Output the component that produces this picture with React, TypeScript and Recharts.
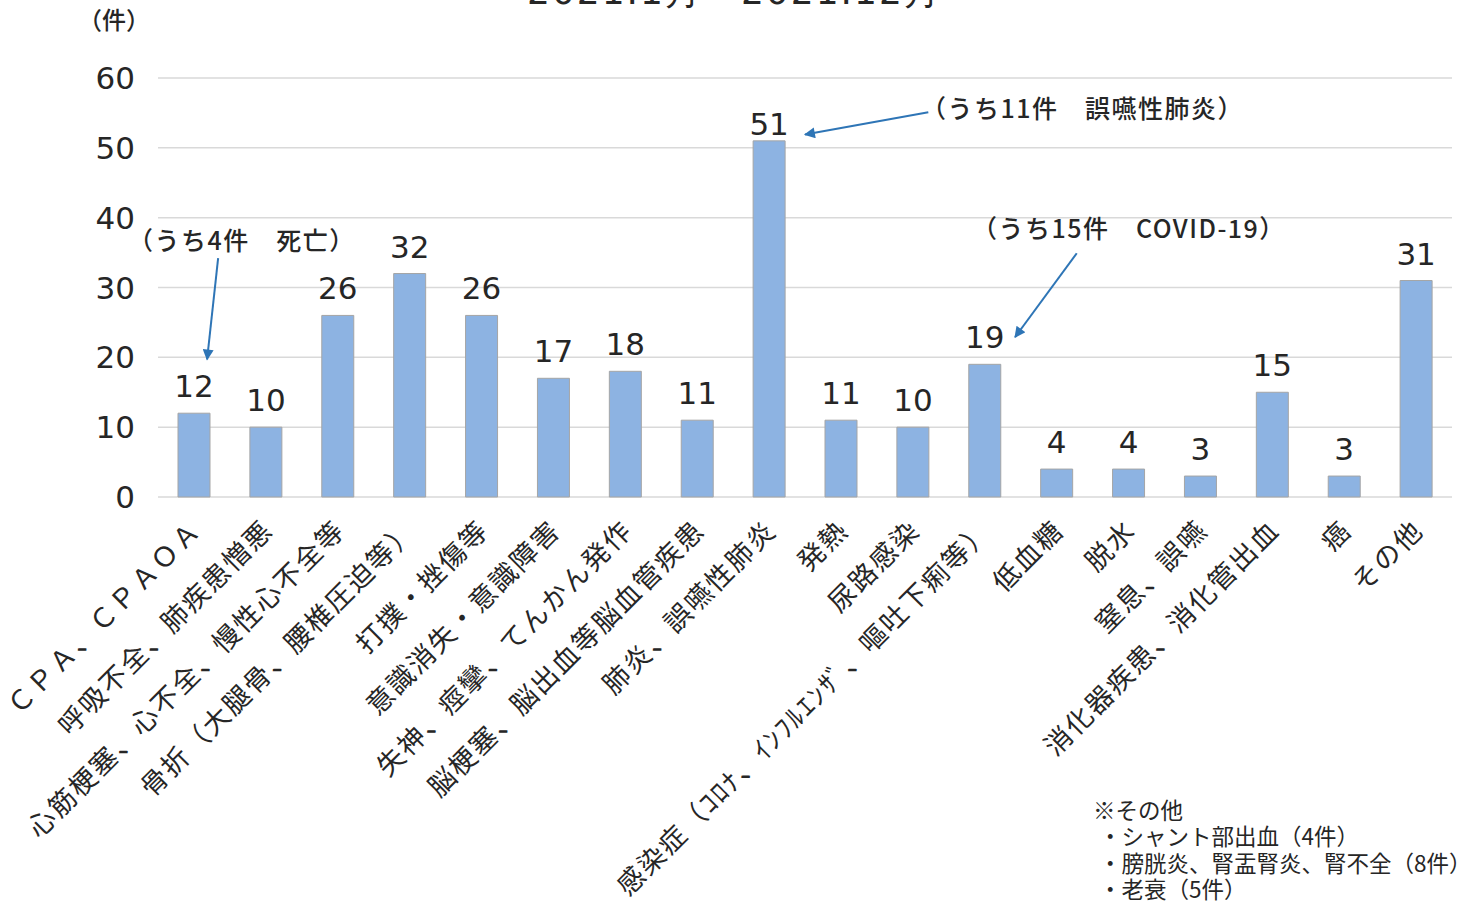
import { BarChart, Bar, XAxis, YAxis, CartesianGrid, LabelList, ReferenceLine } from 'recharts'

// 救急搬送 病名別件数（2021.1月～2021.12月）
const categories = [
  'ＣＰＡ、ＣＰＡＯＡ',
  '呼吸不全、肺疾患憎悪',
  '心筋梗塞、心不全、慢性心不全等',
  '骨折（大腿骨、腰椎圧迫等）',
  '打撲・挫傷等',
  '意識消失・意識障害',
  '失神、痙攣、てんかん発作',
  '脳梗塞、脳出血等脳血管疾患',
  '肺炎、誤嚥性肺炎',
  '発熱',
  '尿路感染',
  '感染症（ｺﾛﾅ、ｲﾝﾌﾙｴﾝｻﾞ、嘔吐下痢等）',
  '低血糖',
  '脱水',
  '窒息、誤嚥',
  '消化器疾患、消化管出血',
  '癌',
  'その他',
]
const counts = [12, 10, 26, 32, 26, 17, 18, 11, 51, 11, 10, 19, 4, 4, 3, 15, 3, 31]
const yTicks = [0, 10, 20, 30, 40, 50, 60]

// 注記の矢印（x: 補助軸 0〜17, y: 件数）
const arrows = [
  { x1: 0.79, y1: 34.2, x2: 0.645, y2: 19.7 },
  { x1: 10.12, y1: 55.1, x2: 8.5, y2: 51.9 },
  { x1: 12.07, y1: 34.9, x2: 11.26, y2: 22.9 },
]

const notes = ['※その他', '・シャント部出血（4件）', '・膀胱炎、腎盂腎炎、腎不全（8件）', '・老衰（5件）']

const data = categories.map((name, i) => ({ name, count: counts[i] }))

const JP = '"Noto Sans CJK JP", sans-serif'
const NUM = '"DejaVu Sans", sans-serif'
const ARROW = '#2E75B6'

function CategoryTick({ x, y, payload }: { x?: number; y?: number; payload?: { value: string } }) {
  const ax = (x ?? 0) + 9
  const ay = (y ?? 0) + 35
  return (
    <text x={ax} y={ay} transform={`rotate(-45, ${ax}, ${ay})`} textAnchor="end"
      fill="#262626" fontSize={27} letterSpacing={2} fontFamily={JP}>
      {payload?.value}
    </text>
  )
}

function ValueLabel(p: any) {
  const v = Number(p.value)
  const gap = v >= 50 ? 6 : 16
  return (
    <text x={p.x + p.width / 2} y={p.y - gap} textAnchor="middle" fill="#262626" fontSize={31} fontFamily={NUM}>
      {v}
    </text>
  )
}

function ArrowLine(p: any) {
  return <line x1={p.x1} y1={p.y1} x2={p.x2} y2={p.y2} stroke={ARROW} strokeWidth={2} markerEnd="url(#arrowBlue)" />
}

export default function App() {
  const ann = { position: 'absolute' as const, fontFamily: JP, fontSize: 25, fontWeight: 500, letterSpacing: 1.5, color: '#262626', whiteSpace: 'nowrap' as const, lineHeight: '28px' }
  return (
    <div style={{ position: 'absolute', left: 0, top: 0, width: 1470, height: 901, overflow: 'hidden', background: '#fff' }}>
      <svg width={0} height={0} style={{ position: 'absolute' }}>
        <defs>
          <marker id="arrowBlue" viewBox="0 0 10 10" refX="9" refY="5" markerWidth="13" markerHeight="11"
            markerUnits="userSpaceOnUse" orient="auto">
            <path d="M0,0 L10,5 L0,10 z" fill={ARROW} />
          </marker>
        </defs>
      </svg>

      <div style={{ position: 'absolute', left: 527, top: -26, fontFamily: NUM, fontSize: 36, lineHeight: '36px', color: '#262626', letterSpacing: 2, whiteSpace: 'nowrap' }}>
        2021.1月～2021.12月
      </div>

      <BarChart width={1470} height={901} data={data} margin={{ top: 78, right: 18, bottom: 4, left: 0 }} barCategoryGap={0}>
        <CartesianGrid vertical={false} stroke="#D9D9D9" strokeWidth={1.5} />
        <XAxis dataKey="name" interval={0} height={400} axisLine={false} tickLine={false} tickSize={0} tickMargin={0}
          tick={<CategoryTick />} />
        <XAxis xAxisId="n" type="number" domain={[0, 17]} hide allowDataOverflow />
        <YAxis domain={[0, 60]} ticks={yTicks} width={158} axisLine={false} tickLine={false} tickMargin={17}
          tick={{ fontSize: 31, fill: '#262626', fontFamily: NUM }} />
        <Bar dataKey="count" fill="#8DB3E2" stroke="#A5A5A5" strokeWidth={1} barSize={32} isAnimationActive={false}>
          <LabelList dataKey="count" content={ValueLabel} />
        </Bar>
        {arrows.map((a, i) => (
          <ReferenceLine key={i} xAxisId="n" ifOverflow="visible"
            segment={[{ x: a.x1, y: a.y1 }, { x: a.x2, y: a.y2 }]} shape={ArrowLine} />
        ))}
      </BarChart>

      <div style={{ ...ann, left: 78, top: 5, fontSize: 24, letterSpacing: 0 }}>（件）</div>
      <div style={{ ...ann, left: 128, top: 225 }}>（うち4件　死亡）</div>
      <div style={{ ...ann, left: 921, top: 93 }}>（うち11件　誤嚥性肺炎）</div>
      <div style={{ ...ann, left: 972, top: 213 }}>（うち15件　COVID-19）</div>
      <div style={{ ...ann, left: 1093, top: 796, fontSize: 22.5, fontWeight: 400, letterSpacing: 0, lineHeight: '26.3px' }}>
        {notes.map((n, i) => (
          <div key={i} style={{ paddingLeft: i === 0 ? 0 : 6 }}>{n}</div>
        ))}
      </div>
    </div>
  )
}
